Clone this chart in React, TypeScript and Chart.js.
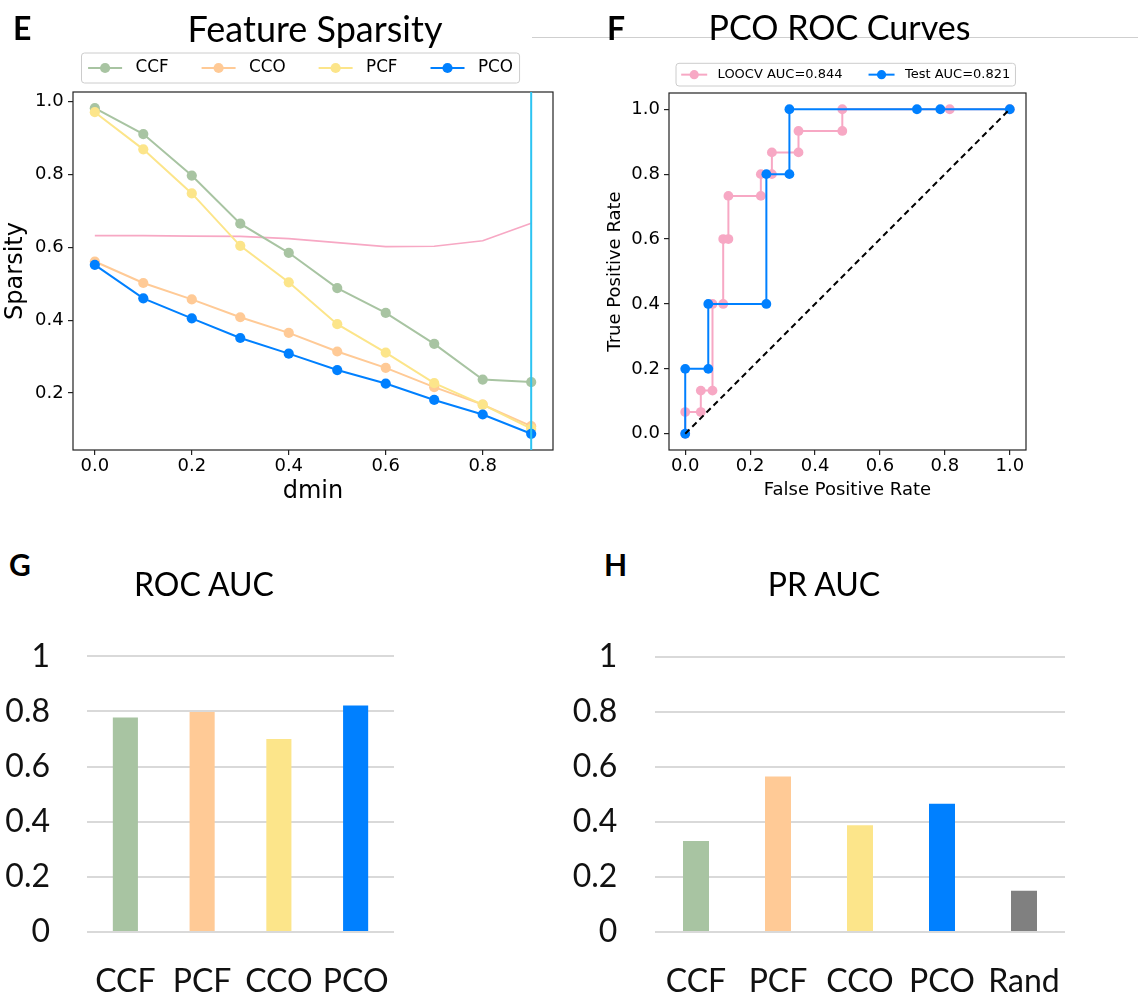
import React, { useEffect, useRef } from 'react';
import { Chart, registerables } from 'chart.js';

Chart.register(...registerables);

// ---- Panel E: feature sparsity against the dmin threshold ----
const dminValues = [0, 0.1, 0.2, 0.3, 0.4, 0.5, 0.6, 0.7, 0.8, 0.9];
const sparsityCCF = [0.982, 0.911, 0.797, 0.665, 0.585, 0.488, 0.42, 0.335, 0.237, 0.23];
const sparsityCCO = [0.561, 0.502, 0.457, 0.408, 0.365, 0.314, 0.269, 0.216, 0.168, 0.109];
const sparsityPCF = [0.971, 0.869, 0.748, 0.604, 0.504, 0.389, 0.311, 0.227, 0.168, 0.102];
const sparsityPCO = [0.552, 0.46, 0.405, 0.351, 0.308, 0.263, 0.226, 0.181, 0.141, 0.088];
const sparsityReference = [0.632, 0.632, 0.631, 0.63, 0.624, 0.613, 0.602, 0.603, 0.618, 0.666];
const selectedDmin = 0.9;
const dminTicks = [0, 0.2, 0.4, 0.6, 0.8];
const sparsityTicks = [0.2, 0.4, 0.6, 0.8, 1.0];

// ---- Panel F: ROC curves of the PCO model ----
const loocvFpr = [0, 0, 0.048, 0.048, 0.084, 0.084, 0.117, 0.117, 0.133, 0.133, 0.233, 0.233, 0.267, 0.267, 0.349, 0.349, 0.484, 0.484, 0.815, 1.0];
const loocvTpr = [0, 0.067, 0.067, 0.133, 0.133, 0.4, 0.4, 0.6, 0.6, 0.733, 0.733, 0.8, 0.8, 0.867, 0.867, 0.933, 0.933, 1.0, 1.0, 1.0];
const testFpr = [0, 0, 0.071, 0.071, 0.25, 0.25, 0.321, 0.321, 0.714, 0.786, 1.0];
const testTpr = [0, 0.2, 0.2, 0.4, 0.4, 0.8, 0.8, 1.0, 1.0, 1.0, 1.0];
const chanceLine = [0, 1];
const rateTicks = [0, 0.2, 0.4, 0.6, 0.8, 1.0];

// ---- Panels G and H: AUC summaries ----
const rocCategories = ['CCF', 'PCF', 'CCO', 'PCO'];
const rocAucValues = [0.778, 0.798, 0.7, 0.821];
const prCategories = ['CCF', 'PCF', 'CCO', 'PCO', 'Rand'];
const prAucValues = [0.331, 0.565, 0.388, 0.466, 0.15];
const aucTicks = [0, 0.2, 0.4, 0.6, 0.8, 1];

const GREEN = '#A8C4A2';
const ORANGE = '#FFCA96';
const YELLOW = '#FCE58A';
const BLUE = '#0080FF';
const PINK = '#F7A8C4';
const CYAN = '#2CC4F2';
const GREY = '#808080';

const MPL_FONT = '"DejaVu Sans"';
const OFFICE_FONT = 'Lato';

type Pt = { x: number; y: number };
const zip = (xs: number[], ys: number[]): Pt[] => xs.map((x, i) => ({ x, y: ys[i] }));
const fixedTicks = (values: number[]) => (scale: any) => {
  scale.ticks = values.map((value) => ({ value }));
};
const fixWidth = (w: number) => (scale: any) => {
  scale.width = w;
};
const fixHeight = (h: number) => (scale: any) => {
  scale.height = h;
};

function roundRectPath(ctx: CanvasRenderingContext2D, x: number, y: number, w: number, h: number, r: number) {
  ctx.moveTo(x + r, y);
  ctx.lineTo(x + w - r, y);
  ctx.arcTo(x + w, y, x + w, y + r, r);
  ctx.lineTo(x + w, y + h - r);
  ctx.arcTo(x + w, y + h, x + w - r, y + h, r);
  ctx.lineTo(x + r, y + h);
  ctx.arcTo(x, y + h, x, y + h - r, r);
  ctx.lineTo(x, y + r);
  ctx.arcTo(x, y, x + r, y, r);
  ctx.closePath();
}

// Matplotlib-style legend box: line + marker handles laid out in one row.
const legendBoxPlugin = {
  id: 'legendBox',
  afterDraw(chart: any, _args: any, opts: any) {
    if (!opts || !opts.left) return;
    const ctx: CanvasRenderingContext2D = chart.ctx;
    const items = chart.data.datasets
      .filter((d: any) => d.label)
      .map((d: any) => ({ label: d.label, color: d.borderColor }));
    const { left, top, height, fontSize, handle, textPad, colSpace, borderPad, radius, lineWidth } = opts;
    ctx.save();
    ctx.font = `${fontSize}px ${MPL_FONT}`;
    const widths = items.map((it: any) => ctx.measureText(it.label).width);
    let width = borderPad * 2;
    widths.forEach((w: number, i: number) => {
      width += handle + textPad + w + (i > 0 ? colSpace : 0);
    });
    ctx.beginPath();
    roundRectPath(ctx, left, top, width, height, 3);
    ctx.fillStyle = 'rgba(255,255,255,0.8)';
    ctx.fill();
    ctx.strokeStyle = '#cccccc';
    ctx.lineWidth = 1;
    ctx.stroke();
    const cy = top + height / 2;
    let x = left + borderPad;
    items.forEach((it: any, i: number) => {
      ctx.strokeStyle = it.color;
      ctx.lineWidth = lineWidth;
      ctx.beginPath();
      ctx.moveTo(x, cy);
      ctx.lineTo(x + handle, cy);
      ctx.stroke();
      ctx.fillStyle = it.color;
      ctx.beginPath();
      ctx.arc(x + handle / 2, cy, radius, 0, Math.PI * 2);
      ctx.fill();
      x += handle + textPad;
      ctx.fillStyle = '#000';
      ctx.textBaseline = 'middle';
      ctx.textAlign = 'left';
      ctx.fillText(it.label, x, cy);
      x += widths[i] + colSpace;
    });
    ctx.restore();
  },
};

// Axes frame (all four spines).
const framePlugin = {
  id: 'frame',
  afterDatasetsDraw(chart: any, _args: any, opts: any) {
    if (!opts || !opts.color) return;
    const { ctx, chartArea } = chart;
    ctx.save();
    ctx.strokeStyle = opts.color;
    ctx.lineWidth = opts.width;
    ctx.strokeRect(chartArea.left, chartArea.top, chartArea.right - chartArea.left, chartArea.bottom - chartArea.top);
    ctx.restore();
  },
};

// Vertical marker across the full axes height at a given x value.
const vlinePlugin = {
  id: 'vline',
  afterDatasetsDraw(chart: any, _args: any, opts: any) {
    if (!opts || opts.value === undefined) return;
    const { ctx, chartArea, scales } = chart;
    const px = scales.x.getPixelForValue(opts.value);
    ctx.save();
    ctx.strokeStyle = opts.color;
    ctx.lineWidth = opts.width;
    ctx.beginPath();
    ctx.moveTo(px, chartArea.top);
    ctx.lineTo(px, chartArea.bottom);
    ctx.stroke();
    ctx.restore();
  },
};

const mplTickGrid = { drawOnChartArea: false, drawTicks: true, tickLength: 5, color: '#222', lineWidth: 1.2 };

function lineSeries(label: string | undefined, data: Pt[], color: string, order: number, extra: any = {}) {
  return {
    label,
    data,
    borderColor: color,
    backgroundColor: color,
    pointBackgroundColor: color,
    pointBorderWidth: 0,
    pointRadius: 5.1,
    borderWidth: 2,
    tension: 0,
    order,
    ...extra,
  };
}

function sparsityConfig(): any {
  return {
    type: 'line',
    data: {
      datasets: [
        lineSeries('CCF', zip(dminValues, sparsityCCF), GREEN, 4),
        lineSeries('CCO', zip(dminValues, sparsityCCO), ORANGE, 3),
        lineSeries('PCF', zip(dminValues, sparsityPCF), YELLOW, 2),
        lineSeries('PCO', zip(dminValues, sparsityPCO), BLUE, 1),
        lineSeries(undefined, zip(dminValues, sparsityReference), PINK, 5, { pointRadius: 0, borderWidth: 1.7 }),
      ],
    },
    options: {
      animation: false,
      responsive: false,
      devicePixelRatio: 1,
      layout: { padding: { left: 0, top: 52, right: 32, bottom: 13.6 } },
      plugins: {
        legend: { display: false },
        tooltip: { enabled: false },
        legendBox: { left: 81.5, top: 13, height: 30, fontSize: 16.8, handle: 34, textPad: 13.4, colSpace: 33, borderPad: 6.6, radius: 5.1, lineWidth: 2 },
        frame: { color: '#222', width: 1.2 },
        vline: { value: selectedDmin, color: CYAN, width: 2 },
      },
      scales: {
        x: {
          type: 'linear',
          min: -0.045,
          max: 0.945,
          bounds: 'data',
          afterBuildTicks: fixedTicks(dminTicks),
          afterFit: fixHeight(56.4),
          grid: mplTickGrid,
          border: { display: false },
          ticks: { font: { family: MPL_FONT, size: 18 }, color: '#000', padding: 1, maxRotation: 0, autoSkip: false, callback: (v: any) => Number(v).toFixed(1) },
          title: { display: true, text: 'dmin', font: { family: MPL_FONT, size: 24 }, color: '#000', padding: { top: 0, bottom: 0 } },
        },
        y: {
          type: 'linear',
          min: 0.0435,
          max: 1.0265,
          bounds: 'data',
          afterBuildTicks: fixedTicks(sparsityTicks),
          afterFit: fixWidth(73),
          grid: mplTickGrid,
          border: { display: false },
          ticks: { font: { family: MPL_FONT, size: 18 }, color: '#000', padding: 4.4, autoSkip: false, callback: (v: any) => Number(v).toFixed(1) },
          title: { display: true, text: 'Sparsity', font: { family: MPL_FONT, size: 24 }, color: '#000', padding: { top: 1.6, bottom: 0 } },
        },
      },
    },
    plugins: [legendBoxPlugin, framePlugin, vlinePlugin],
  };
}

function rocConfig(): any {
  return {
    type: 'line',
    data: {
      datasets: [
        lineSeries('LOOCV AUC=0.844', zip(loocvFpr, loocvTpr), PINK, 2, { pointRadius: 4.9 }),
        lineSeries('Test AUC=0.821', zip(testFpr, testTpr), BLUE, 1, { pointRadius: 4.9 }),
        lineSeries(undefined, zip(chanceLine, chanceLine), '#000', 0, { pointRadius: 0, borderDash: [6, 4] }),
      ],
    },
    options: {
      animation: false,
      responsive: false,
      devicePixelRatio: 1,
      layout: { padding: { left: 0, top: 53, right: 112, bottom: 19.2 } },
      plugins: {
        legend: { display: false },
        tooltip: { enabled: false },
        legendBox: { left: 86, top: 23.3, height: 22.7, fontSize: 13, handle: 26, textPad: 10.4, colSpace: 26, borderPad: 5.2, radius: 4.6, lineWidth: 2 },
        frame: { color: '#222', width: 1.2 },
      },
      scales: {
        x: {
          type: 'linear',
          min: -0.05,
          max: 1.05,
          bounds: 'data',
          afterBuildTicks: fixedTicks(rateTicks),
          afterFit: fixHeight(50.8),
          grid: mplTickGrid,
          border: { display: false },
          ticks: { font: { family: MPL_FONT, size: 18 }, color: '#000', padding: 1, maxRotation: 0, autoSkip: false, callback: (v: any) => Number(v).toFixed(1) },
          title: { display: true, text: 'False Positive Rate', font: { family: MPL_FONT, size: 18 }, color: '#000', padding: { top: 0, bottom: 0 } },
        },
        y: {
          type: 'linear',
          min: -0.05,
          max: 1.05,
          bounds: 'data',
          afterBuildTicks: fixedTicks(rateTicks),
          afterFit: fixWidth(79),
          grid: mplTickGrid,
          border: { display: false },
          ticks: { font: { family: MPL_FONT, size: 18 }, color: '#000', padding: 4, autoSkip: false, callback: (v: any) => Number(v).toFixed(1) },
          title: { display: true, text: 'True Positive Rate', font: { family: MPL_FONT, size: 18 }, color: '#000', padding: { top: 14.2, bottom: 0 } },
        },
      },
    },
    plugins: [legendBoxPlugin, framePlugin],
  };
}

function aucBarConfig(labels: string[], values: number[], colors: string[], opts: { right: number; yWidth: number; yPad: number; barPct: number }): any {
  return {
    type: 'bar',
    data: {
      labels,
      datasets: [
        {
          data: values,
          backgroundColor: colors,
          borderWidth: 0,
          barPercentage: opts.barPct,
          categoryPercentage: 1,
        },
      ],
    },
    options: {
      animation: false,
      responsive: false,
      devicePixelRatio: 1,
      layout: { padding: { left: 0, top: 50, right: opts.right, bottom: 0 } },
      plugins: { legend: { display: false }, tooltip: { enabled: false } },
      scales: {
        x: {
          afterFit: fixHeight(66),
          grid: { display: false, drawTicks: false },
          border: { display: false },
          ticks: { font: { family: OFFICE_FONT, size: 32 }, color: '#111', padding: 30.5, maxRotation: 0, autoSkip: false },
        },
        y: {
          min: 0,
          max: 1,
          bounds: 'data',
          afterBuildTicks: fixedTicks(aucTicks),
          afterFit: fixWidth(opts.yWidth),
          grid: { color: '#D9D9D9', lineWidth: 2, drawTicks: false },
          border: { display: false },
          ticks: { font: { family: OFFICE_FONT, size: 32 }, color: '#111', padding: opts.yPad, autoSkip: false, callback: (v: any) => String(Math.round(Number(v) * 10) / 10) },
        },
      },
    },
  };
}

function ChartCanvas(props: { left: number; top: number; width: number; height: number; config: () => any }) {
  const ref = useRef<HTMLCanvasElement>(null);
  useEffect(() => {
    const chart = new Chart(ref.current as HTMLCanvasElement, props.config());
    return () => chart.destroy();
  }, []);
  const { left, top, width, height } = props;
  return <canvas ref={ref} width={width} height={height} style={{ position: 'absolute', left, top, width, height }} />;
}

// Text placed by its baseline (Lato ascent ~0.887em inside a 1em line box).
function Label(props: { text: string; baseline: number; size: number; left?: number; center?: number; bold?: boolean }) {
  const { text, baseline, size, left, center, bold } = props;
  const style: React.CSSProperties = {
    position: 'absolute',
    top: baseline - 0.887 * size,
    fontFamily: OFFICE_FONT,
    fontSize: size,
    fontWeight: bold ? 700 : 400,
    lineHeight: 1,
    whiteSpace: 'nowrap',
    color: '#000',
  };
  if (center !== undefined) {
    style.left = center - 200;
    style.width = 400;
    style.textAlign = 'center';
  } else {
    style.left = left;
  }
  return <div style={style}>{text}</div>;
}

export default function App() {
  return (
    <div style={{ position: 'absolute', left: 0, top: 0, width: 1138, height: 998, background: '#fff', overflow: 'hidden' }}>
      <div style={{ position: 'absolute', left: 532, top: 37, width: 606, height: 1, background: '#cfcfcf' }} />
      <ChartCanvas left={0} top={40} width={585} height={480} config={sparsityConfig} />
      <ChartCanvas left={590} top={40} width={548} height={480} config={rocConfig} />
      <ChartCanvas
        left={0}
        top={600}
        width={545}
        height={398}
        config={() => aucBarConfig(rocCategories, rocAucValues, [GREEN, ORANGE, YELLOW, BLUE], { right: 151, yWidth: 87, yPad: 37, barPct: 0.327 })}
      />
      <ChartCanvas
        left={548}
        top={600}
        width={590}
        height={398}
        config={() => aucBarConfig(prCategories, prAucValues, [GREEN, ORANGE, YELLOW, BLUE, GREY], { right: 73, yWidth: 107, yPad: 37.6, barPct: 0.317 })}
      />
      <Label text="E" left={13} baseline={40.5} size={32} bold />
      <Label text="Feature Sparsity" center={315} baseline={41.7} size={36} />
      <Label text="F" left={607} baseline={40.5} size={32} bold />
      <Label text="PCO ROC Curves" center={839.5} baseline={40} size={34} />
      <Label text="G" left={9} baseline={575.5} size={30} bold />
      <Label text="ROC AUC" center={204} baseline={596.7} size={32} />
      <Label text="H" left={604} baseline={575.5} size={30} bold />
      <Label text="PR AUC" center={824} baseline={596.7} size={32} />
    </div>
  );
}
